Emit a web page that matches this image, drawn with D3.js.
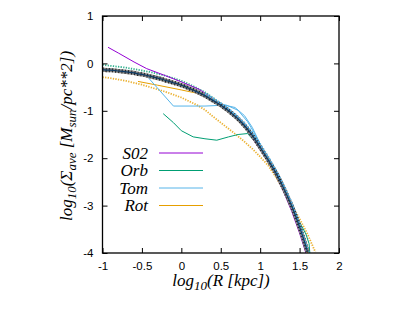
<!DOCTYPE html>
<html>
<head>
<script src="https://d3js.org/d3.v7.min.js"></script>
<style>
  body { margin: 0; background: #fff; }
  .tick text { font-family: "Liberation Sans", Arial, sans-serif; font-size: 11.5px; fill: #000; }
  .tick line { stroke: #000; }
  .lab { font-family: "Liberation Serif", "Times New Roman", serif; font-style: italic; fill: #000; }
</style>
</head>
<body>
<div id="chart"></div>
<script>
// main profile (black squares + navy line)
const mainX = [-1.00,-0.95,-0.90,-0.85,-0.80,-0.75,-0.70,-0.65,-0.60,-0.55,-0.50,-0.45,-0.40,-0.35,-0.30,-0.25,-0.20,-0.15,-0.10,-0.05,
  0.00,0.05,0.10,0.15,0.20,0.25,0.30,0.35,0.40,0.45,0.50,0.55,0.60,0.65,0.70,0.75,0.80,0.85,0.90,0.95,
  1.00,1.05,1.10,1.15,1.20,1.25,1.30,1.35,1.40,1.45,1.50,1.55,1.60];
const mainY = [-0.13,-0.14,-0.14,-0.15,-0.16,-0.17,-0.18,-0.19,-0.20,-0.22,-0.23,-0.25,-0.27,-0.29,-0.31,-0.33,-0.36,-0.38,-0.41,-0.43,
  -0.46,-0.49,-0.53,-0.56,-0.60,-0.64,-0.68,-0.73,-0.78,-0.83,-0.88,-0.94,-1.00,-1.07,-1.14,-1.22,-1.31,-1.41,-1.52,-1.64,
  -1.77,-1.90,-2.03,-2.17,-2.31,-2.47,-2.64,-2.82,-3.01,-3.22,-3.45,-3.70,-3.97];
// light blue points, slightly above/right of the main profile
const tomPtsX = [0.30,0.40,0.50,0.60,0.70,0.80,0.90,1.00,1.10,1.20,1.30,1.40,1.50,1.60];
const tomPtsY = [-0.64,-0.74,-0.84,-0.96,-1.10,-1.26,-1.46,-1.71,-1.97,-2.26,-2.58,-2.95,-3.40,-3.92];
// green dotted profile
const orbPtsX = [-1.0,-0.9,-0.8,-0.7,-0.6,-0.5,-0.4,-0.3,-0.2,-0.1,0.0,0.1,0.2,0.3,0.4,0.5,0.6,0.7,0.8,0.9,1.0,1.1,1.2,1.3,1.4,1.5,1.6];
const orbPtsY = [-0.03,-0.05,-0.07,-0.09,-0.12,-0.15,-0.18,-0.22,-0.26,-0.31,-0.37,-0.44,-0.52,-0.61,-0.72,-0.85,-0.98,-1.12,-1.29,-1.50,-1.75,-2.00,-2.29,-2.62,-3.00,-3.42,-3.93];
// orange dotted profile
const rotPtsX = [-1.0,-0.9,-0.8,-0.7,-0.6,-0.5,-0.4,-0.3,-0.2,-0.1,0.0,0.1,0.2,0.3,0.4,0.5,0.6,0.7,0.8,0.9,1.0,1.1,1.2,1.3,1.4,1.5,1.6,1.7];
const rotPtsY = [-0.29,-0.31,-0.34,-0.37,-0.41,-0.45,-0.50,-0.55,-0.60,-0.66,-0.72,-0.80,-0.88,-0.98,-1.12,-1.25,-1.38,-1.51,-1.65,-1.80,-1.97,-2.15,-2.40,-2.68,-2.97,-3.28,-3.60,-3.98];

// S02 line
const s02X = [-0.93,-0.8,-0.6,-0.44,-0.2,0.0,0.23,0.4,0.6,0.8,0.9,1.0,1.1,1.2,1.3,1.4,1.5,1.58];
const s02Y = [0.34,0.22,0.03,-0.11,-0.26,-0.39,-0.55,-0.74,-0.99,-1.33,-1.58,-1.82,-2.08,-2.36,-2.72,-3.12,-3.58,-4.0];
// Orb line
const orbX = [-0.23,-0.1,0.0,0.15,0.3,0.45,0.6,0.72,0.84,0.95,1.1,1.2,1.3,1.4,1.5,1.58,1.62,1.63];
const orbY = [-1.06,-1.25,-1.42,-1.55,-1.59,-1.62,-1.55,-1.5,-1.48,-1.68,-2.05,-2.33,-2.65,-3.0,-3.35,-3.6,-3.8,-4.0];
// Tom lines
const tomX = [-0.42,-0.1,0.3,0.57,0.72,0.84,0.93,1.01,1.1,1.2,1.3,1.4,1.5,1.58,1.62];
const tomY = [-0.3,-0.9,-0.9,-0.88,-0.99,-1.23,-1.48,-1.73,-2.0,-2.28,-2.6,-2.97,-3.4,-3.8,-4.0];
const tom2X = [0.5,0.68,0.8,0.9,1.0];
const tom2Y = [-0.86,-0.93,-1.1,-1.35,-1.7];
// Rot line
const rotX = [-0.55,-0.3,0.0,0.2,0.45,0.6,0.8,1.0,1.2,1.4,1.5,1.6];
const rotY = [-0.38,-0.46,-0.56,-0.63,-0.8,-0.98,-1.32,-1.8,-2.33,-3.03,-3.45,-4.0];

const xTicks = [-1,-0.5,0,0.5,1,1.5,2];
const yTicks = [-4,-3,-2,-1,0,1];
const legendNames = ["S02","Orb","Tom","Rot"];
const colors = {S02:"#9400d3", Orb:"#009e73", Tom:"#56b4e9", Rot:"#e69f00"};

const W = 415, H = 312;
const svg = d3.select("#chart").append("svg").attr("width", W).attr("height", H);

const x = d3.scaleLinear().domain([-1, 2]).range([102.5, 339]);
const y = d3.scaleLinear().domain([-4, 1]).range([253, 16]);

svg.append("defs").append("clipPath").attr("id", "clip").append("rect")
  .attr("x", x(-1)).attr("y", y(1)).attr("width", x(2) - x(-1)).attr("height", y(-4) - y(1));

const plot = svg.append("g").attr("clip-path", "url(#clip)");
const line = d3.line().x(d => x(d[0])).y(d => y(d[1]));
const zip = (a, b) => a.map((v, i) => [v, b[i]]);

function drawLine(data, color, width, dash, opacity) {
  plot.append("path").datum(data).attr("d", line)
    .attr("fill", "none").attr("stroke", color).attr("stroke-width", width)
    .attr("stroke-dasharray", dash || null).attr("opacity", opacity || 1);
}

// dense point series drawn as dotted strokes
drawLine(zip(rotPtsX, rotPtsY), colors.Rot, 1.8, "1.3,1.3", 0.8);
drawLine(zip(orbPtsX, orbPtsY), colors.Orb, 1.8, "1.3,1.3", 0.8);

// model lines
drawLine(zip(rotX, rotY), colors.Rot, 1);
drawLine(zip(orbX, orbY), colors.Orb, 1);
drawLine(zip(tomX, tomY), colors.Tom, 1);
drawLine(zip(tom2X, tom2Y), colors.Tom, 1);
drawLine(zip(s02X, s02Y), colors.S02, 1);

// main profile: squares band, light blue points, navy line
drawLine(zip(mainX, mainY), "#8a8a8a", 4.2);
drawLine(zip(mainX, mainY), "#222", 4.2, "1,2.2");
drawLine(zip(tomPtsX, tomPtsY), colors.Tom, 2.3, "1.5,1.5");
drawLine(zip(mainX, mainY), "#0d3b66", 1.2);

// axes with inward ticks, mirrored
const fmt = d => String(d);
svg.append("g").attr("transform", `translate(0,${y(-4)})`)
  .call(d3.axisBottom(x).tickValues(xTicks).tickSize(-5).tickPadding(9).tickFormat(fmt))
  .call(g => g.select(".domain").remove());
svg.append("g").attr("transform", `translate(0,${y(1)})`)
  .call(d3.axisTop(x).tickValues(xTicks).tickSize(-5).tickFormat(""))
  .call(g => g.select(".domain").remove());
svg.append("g").attr("transform", `translate(${x(-1)},0)`)
  .call(d3.axisLeft(y).tickValues(yTicks).tickSize(-5).tickPadding(9).tickFormat(fmt))
  .call(g => g.select(".domain").remove());
svg.append("g").attr("transform", `translate(${x(2)},0)`)
  .call(d3.axisRight(y).tickValues(yTicks).tickSize(-5).tickFormat(""))
  .call(g => g.select(".domain").remove());

svg.append("rect")
  .attr("x", x(-1)).attr("y", y(1)).attr("width", x(2) - x(-1)).attr("height", y(-4) - y(1))
  .attr("fill", "none").attr("stroke", "#000").attr("stroke-width", 1.3);

// legend
const leg = svg.append("g");
legendNames.forEach((n, i) => {
  const ly = 153 + i * 17.5;
  leg.append("text").attr("class", "lab").attr("x", 148).attr("y", ly + 5.5)
    .attr("text-anchor", "end").attr("font-size", 17).text(n);
  leg.append("line").attr("x1", 159).attr("x2", 203).attr("y1", ly).attr("y2", ly)
    .attr("stroke", colors[n]).attr("stroke-width", 1);
});

// axis titles
const xl = svg.append("text").attr("class", "lab").attr("x", 221).attr("y", 286)
  .attr("text-anchor", "middle").attr("font-size", 17);
xl.append("tspan").text("log");
xl.append("tspan").attr("dy", 4).attr("font-size", 13).text("10");
xl.append("tspan").attr("dy", -4).text("(R [kpc])");

const yl = svg.append("text").attr("class", "lab")
  .attr("transform", "translate(72,136) rotate(-90)")
  .attr("text-anchor", "middle").attr("font-size", 17);
yl.append("tspan").text("log");
yl.append("tspan").attr("dy", 4).attr("font-size", 13).text("10");
yl.append("tspan").attr("dy", -4).text("(Σ");
yl.append("tspan").attr("dy", 4).attr("font-size", 13).text("ave");
yl.append("tspan").attr("dy", -4).text(" [M");
yl.append("tspan").attr("dy", 4).attr("font-size", 13).text("sun");
yl.append("tspan").attr("dy", -4).text("/pc**2])");
</script>
</body>
</html>
